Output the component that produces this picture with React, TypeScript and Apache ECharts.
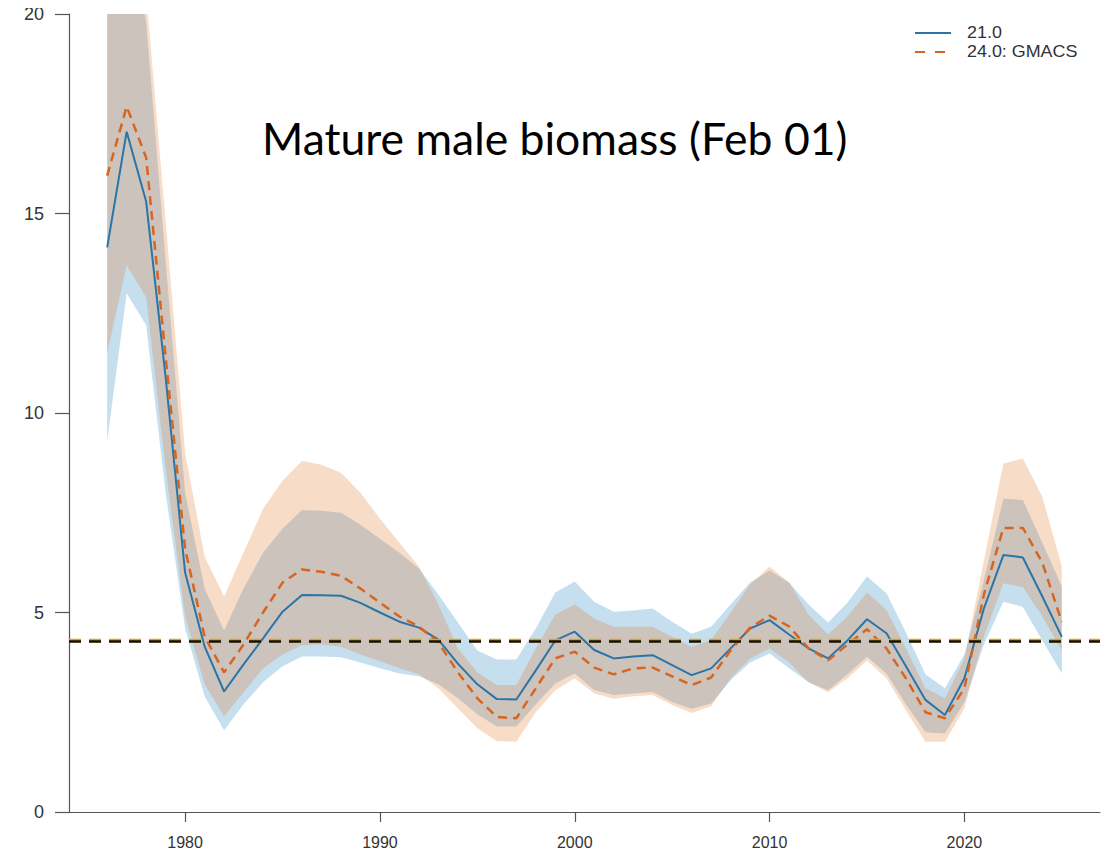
import React, { useEffect, useRef } from "react";
import * as echarts from "echarts";

const years = [
  1976, 1977, 1978, 1979, 1980, 1981, 1982, 1983, 1984, 1985,
  1986, 1987, 1988, 1989, 1990, 1991, 1992, 1993, 1994, 1995,
  1996, 1997, 1998, 1999, 2000, 2001, 2002, 2003, 2004, 2005,
  2006, 2007, 2008, 2009, 2010, 2011, 2012, 2013, 2014, 2015,
  2016, 2017, 2018, 2019, 2020, 2021, 2022, 2023, 2024, 2025,
];

// Model 21.0
const m21 = [
  14.15, 17.05, 15.3, 10.9, 6.0, 4.15, 3.02, 3.7, 4.35, 5.02,
  5.44, 5.43, 5.42, 5.24, 5.0, 4.77, 4.62, 4.32, 3.72, 3.2,
  2.83, 2.82, 3.55, 4.3, 4.52, 4.06, 3.85, 3.9, 3.93, 3.68,
  3.43, 3.6, 4.1, 4.6, 4.81, 4.45, 4.1, 3.85, 4.3, 4.83,
  4.48, 3.65, 2.81, 2.43, 3.35, 5.1, 6.44, 6.38, 5.4, 4.39,
];
const m21Upper = [
  23.0, 22.5, 19.8, 13.8, 8.0, 5.6, 4.55, 5.6, 6.5, 7.1,
  7.57, 7.55, 7.5, 7.2, 6.85, 6.5, 6.1, 5.45, 4.75, 4.05,
  3.82, 3.82, 4.6, 5.5, 5.78, 5.27, 5.02, 5.05, 5.1, 4.77,
  4.47, 4.64, 5.2, 5.75, 6.05, 5.75, 5.2, 4.75, 5.25, 5.9,
  5.48, 4.5, 3.45, 3.1, 3.95, 5.8, 7.86, 7.82, 6.75, 5.65,
];
const m21Lower = [
  9.3, 13.0, 12.2, 8.0, 4.6, 2.9, 2.05, 2.7, 3.25, 3.65,
  3.9, 3.9, 3.88, 3.75, 3.6, 3.47, 3.4, 3.2, 2.85, 2.45,
  2.14, 2.14, 2.7, 3.22, 3.47, 3.06, 2.93, 2.97, 3.01, 2.76,
  2.59, 2.72, 3.3, 3.75, 3.97, 3.6, 3.25, 3.05, 3.45, 3.89,
  3.47, 2.7, 2.0, 1.97, 2.75, 4.2, 5.27, 5.14, 4.3, 3.47,
];

// Model 24.0: GMACS
const m24 = [
  15.95, 17.68, 16.4, 11.4, 6.6, 4.4, 3.5, 4.2, 5.0, 5.75,
  6.08, 6.02, 5.92, 5.6, 5.25, 4.9, 4.65, 4.25, 3.5, 2.85,
  2.38, 2.35, 3.1, 3.85, 4.02, 3.62, 3.45, 3.6, 3.62, 3.4,
  3.18, 3.37, 4.05, 4.62, 4.92, 4.65, 4.1, 3.8, 4.2, 4.58,
  4.1, 3.35, 2.5, 2.35, 3.1, 5.45, 7.12, 7.12, 6.25, 4.76,
];
const m24Upper = [
  24.0, 23.5, 20.5, 14.8, 9.0, 6.4, 5.4, 6.5, 7.6, 8.3,
  8.8, 8.7, 8.5, 8.0, 7.35, 6.75, 6.15, 5.2, 4.1, 3.5,
  3.18, 3.18, 4.1, 4.95, 5.2, 4.85, 4.64, 4.64, 4.64, 4.39,
  4.14, 4.31, 5.0, 5.7, 6.15, 5.75, 4.95, 4.45, 4.9, 5.5,
  5.06, 4.1, 3.1, 2.85, 3.85, 6.3, 8.73, 8.86, 7.9, 6.15,
];
const m24Lower = [
  11.5, 13.7, 12.9, 8.6, 4.9, 3.2, 2.4, 3.0, 3.6, 3.95,
  4.18, 4.2, 4.14, 3.95, 3.78, 3.6, 3.45, 3.1, 2.6, 2.1,
  1.78, 1.76, 2.5, 3.05, 3.35, 2.97, 2.84, 2.9, 2.93, 2.68,
  2.48, 2.65, 3.35, 3.85, 4.1, 3.75, 3.25, 3.0, 3.35, 3.8,
  3.35, 2.55, 1.76, 1.76, 2.6, 4.4, 5.73, 5.64, 4.9, 4.05,
];

// Reference lines
const refGold = 4.31;
const refBlack = 4.29;

const xTicks = [1980, 1990, 2000, 2010, 2020];
const yTicks = [0, 5, 10, 15, 20];

const seriesNames = ["21.0", "24.0: GMACS"];
const titleText = "Mature male biomass (Feb 01)";

const BLUE = "#2a74a8";
const ORANGE = "#d8651f";

const pairs = (vals: number[]) => years.map((y, i) => [y, vals[i]]);

function bandSeries(name: string, lower: number[], upper: number[], fill: string) {
  return {
    type: "custom",
    name,
    clip: true,
    silent: true,
    data: years.map((y, i) => [y, lower[i], upper[i]]),
    encode: { x: 0, y: [1, 2] },
    renderItem: (params: any, api: any) => {
      if (params.dataIndexInside !== 0) return null;
      const top = years.map((y, i) => api.coord([y, upper[i]]));
      const bot = years.map((y, i) => api.coord([y, lower[i]])).reverse();
      return {
        type: "polygon",
        shape: { points: top.concat(bot) },
        style: { fill },
      };
    },
  };
}

export default function App() {
  const ref = useRef<HTMLDivElement>(null);

  useEffect(() => {
    if (!ref.current) return;
    const chart = echarts.init(ref.current, null, { renderer: "svg" });
    const axisColor = "#555";
    const labelFont = "'Liberation Sans', Arial, sans-serif";
    chart.setOption({
      animation: false,
      backgroundColor: "#fff",
      grid: { left: 69, right: 19, top: 14, bottom: 45, containLabel: false },
      xAxis: {
        type: "value",
        min: 1974.04,
        max: 2026.96,
        splitLine: { show: false },
        axisLine: { show: true, lineStyle: { color: axisColor, width: 1.2 } },
        axisTick: {
          show: true,
          length: 10,
          customValues: xTicks,
          lineStyle: { color: axisColor, width: 1.2 },
        },
        axisLabel: {
          customValues: xTicks,
          formatter: (v: number) => String(v),
          margin: 22,
          fontSize: 16,
          color: "#333",
          fontFamily: labelFont,
        },
      },
      yAxis: {
        type: "value",
        min: 0,
        max: 20,
        interval: 5,
        splitLine: { show: false },
        axisLine: { show: true, lineStyle: { color: axisColor, width: 1.2 } },
        axisTick: {
          show: true,
          length: 14,
          customValues: yTicks,
          lineStyle: { color: axisColor, width: 1.2 },
        },
        axisLabel: {
          customValues: yTicks,
          formatter: (v: number) => String(v),
          margin: 25,
          fontSize: 18,
          color: "#333",
          fontFamily: labelFont,
        },
      },
      graphic: [
        {
          type: "text",
          left: 262,
          top: 115,
          style: {
            text: titleText,
            fontSize: 44.5,
            fontFamily: "Lato, 'Open Sans', sans-serif",
            fill: "#000",
          },
        },
        {
          type: "line",
          shape: { x1: 915, y1: 33, x2: 951, y2: 33 },
          style: { stroke: BLUE, lineWidth: 2 },
        },
        {
          type: "text",
          x: 967,
          y: 33,
          scaleX: 1.12,
          style: {
            text: seriesNames[0],
            fontSize: 16,
            fontFamily: labelFont,
            fill: "#333",
            verticalAlign: "middle",
          },
        },
        {
          type: "line",
          shape: { x1: 915, y1: 52, x2: 951, y2: 52 },
          style: { stroke: ORANGE, lineWidth: 2.2, lineDash: [10, 10] },
        },
        {
          type: "text",
          x: 967,
          y: 52,
          scaleX: 1.12,
          style: {
            text: seriesNames[1],
            fontSize: 16,
            fontFamily: labelFont,
            fill: "#333",
            verticalAlign: "middle",
          },
        },
      ],
      series: [
        bandSeries("band21", m21Lower, m21Upper, "rgba(32,132,193,0.26)"),
        bandSeries("band24", m24Lower, m24Upper, "rgba(223,119,42,0.26)"),
        {
          type: "line",
          name: "ref",
          data: [],
          symbol: "none",
          silent: true,
          markLine: {
            symbol: "none",
            silent: true,
            precision: 3,
            label: { show: false },
            data: [
              {
                yAxis: refGold,
                lineStyle: { color: "#E8A400", width: 3.4, type: [12, 8] },
              },
              {
                yAxis: refBlack,
                lineStyle: { color: "#111", width: 2.6, type: [12, 8] },
              },
            ],
          },
        },
        {
          type: "line",
          name: seriesNames[0],
          data: pairs(m21),
          symbol: "none",
          color: BLUE,
          lineStyle: { color: BLUE, width: 2 },
        },
        {
          type: "line",
          name: seriesNames[1],
          data: pairs(m24),
          symbol: "none",
          color: ORANGE,
          lineStyle: { color: ORANGE, width: 2.5, type: [9, 6] },
        },
      ],
    });
    return () => chart.dispose();
  }, []);

  return <div ref={ref} style={{ width: 1119, height: 857, margin: -8 }} />;
}
